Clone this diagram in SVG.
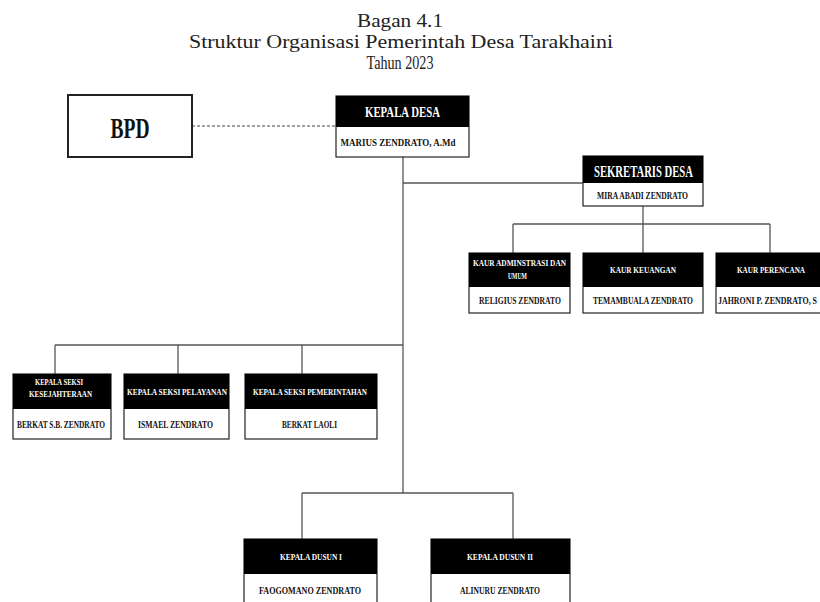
<svg xmlns="http://www.w3.org/2000/svg" width="820" height="602" viewBox="0 0 820 602">
<style>
.bg{fill:#fff}
.box{fill:#fff;stroke:#222;stroke-width:1.2}
.hd{fill:#000}
.t{font-family:"Liberation Serif","Times New Roman",serif;text-anchor:middle}
.title{font-size:18px;fill:#222}
.w{fill:#fff;font-weight:bold}
.k{fill:#111;font-weight:bold}
.ln{stroke:#555;stroke-width:1.3;fill:none}
.dash{stroke:#444;stroke-width:1.2;stroke-dasharray:3 2;fill:none}
</style>
<rect class="bg" x="0" y="0" width="820" height="602"/>
<g id="title">
<text class="t title" x="400" y="27" textLength="86" lengthAdjust="spacingAndGlyphs">Bagan 4.1</text>
<text class="t title" x="401" y="48" textLength="424" lengthAdjust="spacingAndGlyphs">Struktur Organisasi Pemerintah Desa Tarakhaini</text>
<text class="t title" x="400" y="69" textLength="67" lengthAdjust="spacingAndGlyphs">Tahun 2023</text>
</g>
<g id="connectors">
<line class="dash" x1="192" y1="126" x2="336" y2="126"/>
<line class="ln" x1="403" y1="157" x2="403" y2="493"/>
<line class="ln" x1="403" y1="183" x2="583" y2="183"/>
<line class="ln" x1="643" y1="206" x2="643" y2="253"/>
<line class="ln" x1="513" y1="224" x2="770" y2="224"/>
<line class="ln" x1="513" y1="224" x2="513" y2="253"/>
<line class="ln" x1="770" y1="224" x2="770" y2="253"/>
<line class="ln" x1="55" y1="345" x2="403" y2="345"/>
<line class="ln" x1="55" y1="345" x2="55" y2="374"/>
<line class="ln" x1="178" y1="345" x2="178" y2="374"/>
<line class="ln" x1="302" y1="345" x2="302" y2="374"/>
<line class="ln" x1="302" y1="493" x2="513" y2="493"/>
<line class="ln" x1="302" y1="493" x2="302" y2="539"/>
<line class="ln" x1="513" y1="493" x2="513" y2="539"/>
</g>
<g id="bpd">
<rect x="68" y="95" width="124" height="62" fill="#fff" stroke="#222" stroke-width="2"/>
<text class="t k" x="130" y="138" font-size="30" textLength="39" lengthAdjust="spacingAndGlyphs">BPD</text>
</g>
<g id="kepala-desa">
<rect class="box" x="336" y="96" width="133" height="61"/>
<rect class="hd" x="336" y="96" width="133" height="31"/>
<text class="t w" x="402.5" y="117" font-size="15" textLength="75" lengthAdjust="spacingAndGlyphs">KEPALA DESA</text>
<text class="t k" x="398" y="146" font-size="11" textLength="115" lengthAdjust="spacingAndGlyphs">MARIUS  ZENDRATO, A.Md</text>
</g>
<g id="sekretaris-desa">
<rect class="box" x="583" y="156" width="120" height="50"/>
<rect class="hd" x="583" y="156" width="120" height="27"/>
<text class="t w" x="643.5" y="177" font-size="17" textLength="99" lengthAdjust="spacingAndGlyphs">SEKRETARIS DESA</text>
<text class="t k" x="642.5" y="199" font-size="11" textLength="91" lengthAdjust="spacingAndGlyphs">MIRA ABADI ZENDRATO</text>
</g>
<g id="kaur-adm">
<rect class="box" x="469" y="253" width="101" height="60"/>
<rect class="hd" x="469" y="253" width="101" height="34"/>
<text class="t w" x="519.5" y="266" font-size="8.5" textLength="93" lengthAdjust="spacingAndGlyphs">KAUR ADMINSTRASI DAN</text>
<text class="t w" x="517.5" y="279" font-size="8.5" textLength="19" lengthAdjust="spacingAndGlyphs">UMUM</text>
<text class="t k" x="520" y="304" font-size="10.5" textLength="82" lengthAdjust="spacingAndGlyphs">RELIGIUS ZENDRATO</text>
</g>
<g id="kaur-keuangan">
<rect class="box" x="583" y="253" width="120" height="60"/>
<rect class="hd" x="583" y="253" width="120" height="34"/>
<text class="t w" x="643" y="273" font-size="8.5" textLength="66" lengthAdjust="spacingAndGlyphs">KAUR KEUANGAN</text>
<text class="t k" x="643" y="304" font-size="10.5" textLength="100" lengthAdjust="spacingAndGlyphs">TEMAMBUALA ZENDRATO</text>
</g>
<g id="kaur-perencana">
<rect class="box" x="716" y="253" width="120" height="60"/>
<rect class="hd" x="716" y="253" width="120" height="34"/>
<text class="t w" x="771" y="273" font-size="8.5" textLength="68" lengthAdjust="spacingAndGlyphs">KAUR PERENCANA</text>
<text class="k" x="718" y="304" font-family="Liberation Serif, serif" font-size="10.5" textLength="99" lengthAdjust="spacingAndGlyphs">JAHRONI P. ZENDRATO, S</text>
</g>
<g id="seksi-kesejahteraan">
<rect class="box" x="13" y="374" width="98" height="65"/>
<rect class="hd" x="13" y="374" width="98" height="35"/>
<text class="t w" x="59" y="385" font-size="8.5" textLength="48" lengthAdjust="spacingAndGlyphs">KEPALA SEKSI</text>
<text class="t w" x="60.5" y="397" font-size="8.5" textLength="63" lengthAdjust="spacingAndGlyphs">KESEJAHTERAAN</text>
<text class="t k" x="61" y="428" font-size="10.5" textLength="88" lengthAdjust="spacingAndGlyphs">BERKAT S.B. ZENDRATO</text>
</g>
<g id="seksi-pelayanan">
<rect class="box" x="124" y="374" width="105" height="65"/>
<rect class="hd" x="124" y="374" width="105" height="35"/>
<text class="t w" x="177" y="395" font-size="8.5" textLength="100" lengthAdjust="spacingAndGlyphs">KEPALA SEKSI PELAYANAN</text>
<text class="t k" x="175.5" y="428" font-size="10.5" textLength="75" lengthAdjust="spacingAndGlyphs">ISMAEL ZENDRATO</text>
</g>
<g id="seksi-pemerintahan">
<rect class="box" x="245" y="374" width="132" height="65"/>
<rect class="hd" x="245" y="374" width="132" height="35"/>
<text class="t w" x="310" y="395" font-size="8.5" textLength="114" lengthAdjust="spacingAndGlyphs">KEPALA SEKSI PEMERINTAHAN</text>
<text class="t k" x="309.5" y="428" font-size="10.5" textLength="55" lengthAdjust="spacingAndGlyphs">BERKAT LAOLI</text>
</g>
<g id="dusun-1">
<rect class="box" x="244" y="539" width="133" height="75"/>
<rect class="hd" x="244" y="539" width="133" height="35"/>
<text class="t w" x="311" y="560" font-size="8.5" textLength="62" lengthAdjust="spacingAndGlyphs">KEPALA DUSUN I</text>
<text class="t k" x="310" y="594" font-size="11" textLength="102" lengthAdjust="spacingAndGlyphs">FAOGOMANO ZENDRATO</text>
</g>
<g id="dusun-2">
<rect class="box" x="431" y="539" width="139" height="75"/>
<rect class="hd" x="431" y="539" width="139" height="35"/>
<text class="t w" x="500" y="560" font-size="8.5" textLength="66" lengthAdjust="spacingAndGlyphs">KEPALA DUSUN II</text>
<text class="t k" x="500" y="594" font-size="11" textLength="80" lengthAdjust="spacingAndGlyphs">ALINURU ZENDRATO</text>
</g>
</svg>
